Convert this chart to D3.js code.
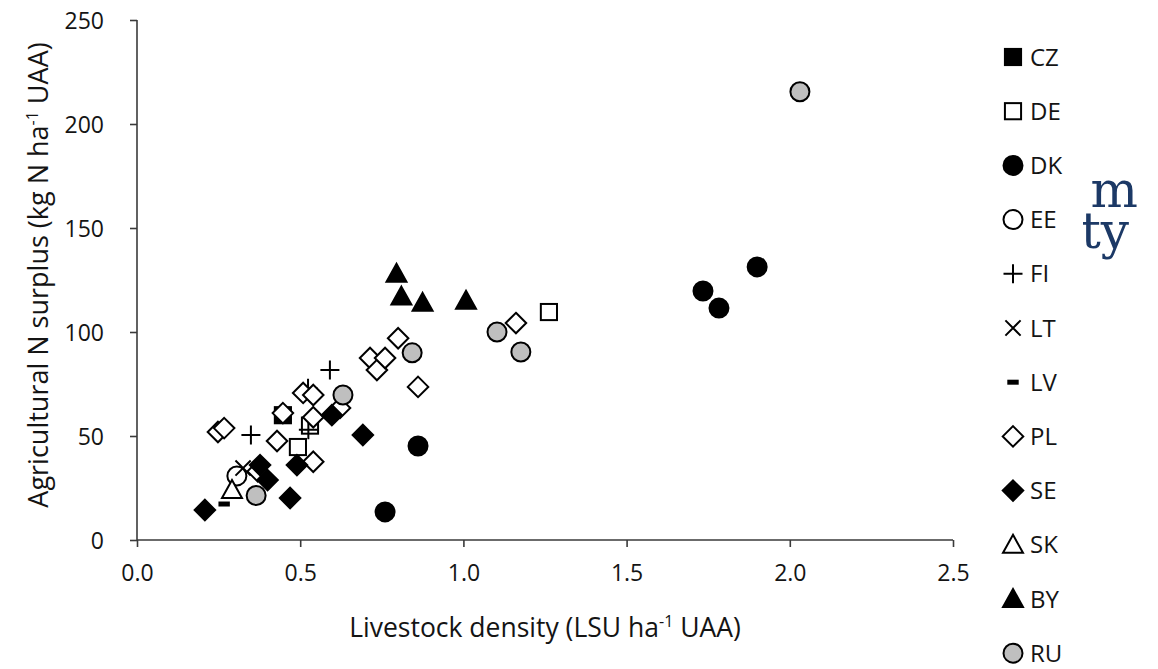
<!DOCTYPE html>
<html>
<head>
<meta charset="utf-8">
<script src="https://cdn.jsdelivr.net/npm/d3@7"></script>
<style>
  html, body { margin: 0; padding: 0; background: #fff; }
  svg { display: block; font-family: "Open Sans", Lato, sans-serif; }
</style>
</head>
<body>
<svg id="chart" width="1158" height="669"></svg>
<script>
// Livestock density (LSU/ha UAA) vs agricultural N surplus (kg N/ha UAA)
const countries = ["CZ", "DE", "DK", "EE", "FI", "LT", "LV", "PL", "SE", "SK", "BY", "RU"];

const CZ = [[0.447, 60]];
const DE = [[0.493, 44.7], [0.53, 55], [1.262, 109.6]];
const DK = [[0.76, 13.5], [0.861, 45.2], [1.734, 119.7], [1.783, 111.5], [1.9, 131.3]];
const EE = [[0.306, 30.8]];
const FI = [[0.349, 50.5], [0.525, 53], [0.524, 73], [0.591, 81.7]];
const LT = [[0.325, 34.6]];
const LV = [[0.267, 17.3]];
const PL = [[0.248, 51.9], [0.267, 53.8], [0.37, 33], [0.429, 47.6], [0.447, 61],
            [0.509, 70.7], [0.54, 69.7], [0.54, 37.6], [0.54, 59], [0.622, 63.5],
            [0.714, 87.5], [0.735, 81.7], [0.76, 87.5], [0.8, 97], [0.861, 73.6], [1.161, 104.3]];
const SE = [[0.208, 14.4], [0.377, 36], [0.40, 28.8], [0.469, 20.2], [0.49, 36], [0.597, 60], [0.692, 50.5]];
const SK = [[0.291, 24]];
const BY = [[0.795, 128], [0.81, 117], [0.875, 114], [1.008, 115]];
const RU = [[0.365, 21.4], [0.631, 69.7], [0.843, 90], [1.103, 100], [1.176, 90.4], [2.031, 215.5]];

const seriesValues = { CZ, DE, DK, EE, FI, LT, LV, PL, SE, SK, BY, RU };

const xTicks = [0, 0.5, 1.0, 1.5, 2.0, 2.5];
const yTicks = [0, 50, 100, 150, 200, 250];

// marker style per country
const markerStyle = {
  CZ: { shape: "square",   fill: "#000" },
  DE: { shape: "square",   fill: "#fff" },
  DK: { shape: "circle",   fill: "#000" },
  EE: { shape: "circle",   fill: "#fff" },
  FI: { shape: "plus",     fill: "none" },
  LT: { shape: "cross",    fill: "none" },
  LV: { shape: "dash",     fill: "#000" },
  PL: { shape: "diamond",  fill: "#fff" },
  SE: { shape: "diamond",  fill: "#000" },
  SK: { shape: "triangle", fill: "#fff" },
  BY: { shape: "triangle", fill: "#000" },
  RU: { shape: "circle",   fill: "#bfbfbf" }
};

const svg = d3.select("#chart");
const x = d3.scaleLinear().domain([0, 2.5]).range([137, 953]);
const y = d3.scaleLinear().domain([0, 250]).range([540, 20]);
const axisColor = "#3a3a3a";
const textColor = "#141414";

// y axis
const yAxis = svg.append("g").attr("transform", `translate(${x(0)},0)`)
  .call(d3.axisLeft(y).tickValues(yTicks).tickSize(7).tickPadding(26).tickFormat(d3.format("d")));
// x axis
const xAxis = svg.append("g").attr("transform", `translate(0,${y(0)})`)
  .call(d3.axisBottom(x).tickValues(xTicks).tickSize(7).tickPadding(18).tickFormat(d3.format(".1f")));

[xAxis, yAxis].forEach(g => {
  g.select(".domain").attr("stroke", axisColor).attr("stroke-width", 1.6);
  g.selectAll(".tick line").attr("stroke", axisColor).attr("stroke-width", 1.6);
  g.selectAll(".tick text").attr("fill", textColor).style("font-size", "23px")
    .style("font-family", "'Open Sans', Lato, sans-serif");
});
yAxis.select(".domain").attr("d", `M0,${y(250)}V${y(0)}`);
xAxis.select(".domain").attr("d", `M${x(0)},0H${x(2.5)}`);
yAxis.selectAll(".tick text").attr("dy", "0.36em");

// axis titles
const xTitle = svg.append("text").attr("x", 545).attr("y", 637).attr("text-anchor", "middle")
  .attr("fill", textColor).style("font-size", "26.5px");
xTitle.append("tspan").text("Livestock density (LSU ha");
xTitle.append("tspan").text("-1").attr("dy", -10).style("font-size", "16px");
xTitle.append("tspan").text(" UAA)").attr("dy", 10);

const yTitle = svg.append("text").attr("transform", "translate(48,275) rotate(-90)")
  .attr("text-anchor", "middle").attr("fill", textColor).style("font-size", "27px");
yTitle.append("tspan").text("Agricultural N surplus (kg N ha");
yTitle.append("tspan").text("-1").attr("dy", -10).style("font-size", "16px");
yTitle.append("tspan").text(" UAA)").attr("dy", 10);

// draw one marker of given shape and size into a selection
function drawMarker(g, c, s) {
  const st = markerStyle[c];
  const h = s / 2;
  if (st.shape === "circle") {
    g.append("circle").attr("r", h).attr("fill", st.fill).attr("stroke", "#000").attr("stroke-width", 2);
  } else if (st.shape === "square") {
    const q = h * 0.85;
    g.append("rect").attr("x", -q).attr("y", -q).attr("width", 2 * q).attr("height", 2 * q)
      .attr("fill", st.fill).attr("stroke", "#000").attr("stroke-width", 2);
  } else if (st.shape === "diamond") {
    const q = h * 1.08;
    g.append("path").attr("d", `M0,${-q}L${q},0L0,${q}L${-q},0Z`)
      .attr("fill", st.fill).attr("stroke", "#000").attr("stroke-width", 2).attr("stroke-linejoin", "miter");
  } else if (st.shape === "triangle") {
    const q = h * 1.05;
    g.append("path").attr("d", `M0,${-q}L${q},${q * 0.8}L${-q},${q * 0.8}Z`)
      .attr("fill", st.fill).attr("stroke", "#000").attr("stroke-width", 2).attr("stroke-linejoin", "miter");
  } else if (st.shape === "plus") {
    g.append("path").attr("d", `M${-h},0H${h}M0,${-h}V${h}`)
      .attr("stroke", "#000").attr("stroke-width", 2);
  } else if (st.shape === "cross") {
    const q = h * 0.8;
    g.append("path").attr("d", `M${-q},${-q}L${q},${q}M${-q},${q}L${q},${-q}`)
      .attr("stroke", "#000").attr("stroke-width", 2);
  } else if (st.shape === "dash") {
    g.append("rect").attr("x", -h * 0.6).attr("y", -2.5).attr("width", h * 1.2).attr("height", 5)
      .attr("fill", "#000");
  }
}

// data points
const plot = svg.append("g");
countries.forEach(c => {
  plot.selectAll(null).data(seriesValues[c]).enter().append("g")
    .attr("transform", d => `translate(${x(d[0])},${y(d[1])})`)
    .each(function () { drawMarker(d3.select(this), c, 19); });
});

// legend
const legend = svg.append("g");
countries.forEach((c, i) => {
  const row = legend.append("g").attr("transform", `translate(1013,${57 + i * 54.2})`);
  drawMarker(row, c, 19);
  row.append("text").attr("x", 17).attr("y", 0).attr("dy", "0.36em")
    .attr("fill", textColor).style("font-size", "24px").text(c);
});

// partially visible serif lettering at the right edge (one block, two lines)
svg.append("clipPath").attr("id", "edgeClip")
  .append("rect").attr("x", 1083).attr("y", 150).attr("width", 75).attr("height", 130);
const mark = svg.append("text").attr("clip-path", "url(#edgeClip)")
  .attr("fill", "#1c3966").attr("text-anchor", "end")
  .style("font-family", "'DejaVu Serif', 'Liberation Serif', serif")
  .style("font-size", "50px");
mark.append("tspan").attr("x", 1138).attr("y", 207).text("m");
mark.append("tspan").attr("x", 1129).attr("y", 248).text("ty");
</script>
</body>
</html>
